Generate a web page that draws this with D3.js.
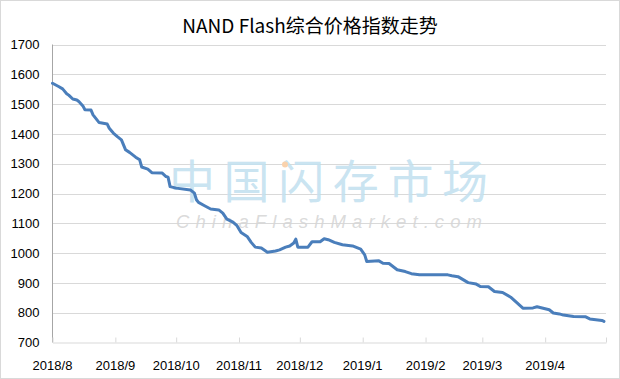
<!DOCTYPE html>
<html><head><meta charset="utf-8">
<script src="https://cdn.jsdelivr.net/npm/d3@7"></script>
<style>
html,body{margin:0;padding:0;background:#fff;}
svg{display:block;}
</style></head>
<body>
<svg id="chart" width="620" height="379"></svg>
<script>
// ---- data ----
const title = "NAND Flash综合价格指数走势";
const dates = ["2018-08-01","2018-08-04","2018-08-06","2018-08-08","2018-08-09","2018-08-11","2018-08-13","2018-08-14","2018-08-16","2018-08-17","2018-08-20","2018-08-21","2018-08-24","2018-08-28","2018-08-29","2018-08-31","2018-09-02","2018-09-04","2018-09-06","2018-09-08","2018-09-11","2018-09-13","2018-09-14","2018-09-17","2018-09-19","2018-09-24","2018-09-26","2018-09-27","2018-09-28","2018-10-01","2018-10-08","2018-10-10","2018-10-11","2018-10-12","2018-10-15","2018-10-18","2018-10-22","2018-10-24","2018-10-26","2018-10-29","2018-10-31","2018-11-02","2018-11-05","2018-11-07","2018-11-09","2018-11-12","2018-11-15","2018-11-19","2018-11-21","2018-11-24","2018-11-26","2018-11-28","2018-11-29","2018-11-30","2018-12-05","2018-12-07","2018-12-11","2018-12-13","2018-12-15","2018-12-18","2018-12-22","2018-12-27","2018-12-31","2019-01-02","2019-01-03","2019-01-09","2019-01-11","2019-01-14","2019-01-18","2019-01-22","2019-01-25","2019-01-29","2019-02-12","2019-02-14","2019-02-17","2019-02-22","2019-02-26","2019-02-28","2019-03-04","2019-03-07","2019-03-11","2019-03-15","2019-03-21","2019-03-26","2019-03-28","2019-03-31","2019-04-03","2019-04-05","2019-04-08","2019-04-10","2019-04-15","2019-04-21","2019-04-23","2019-04-29","2019-04-30"];
const values = [1570,1559,1551,1535,1530,1517,1514,1509,1494,1481,1480,1464,1438,1433,1419,1403,1391,1380,1347,1338,1322,1313,1289,1282,1270,1269,1257,1255,1223,1218,1212,1201,1179,1170,1159,1148,1145,1134,1114,1104,1092,1069,1056,1036,1020,1017,1003,1007,1011,1020,1024,1034,1047,1020,1020,1038,1038,1048,1045,1036,1028,1024,1013,994,972,974,966,965,944,938,931,927,927,924,921,901,896,888,887,871,868,852,815,816,820,815,810,799,796,792,787,786,779,774,771];
const yTicks = [700,800,900,1000,1100,1200,1300,1400,1500,1600,1700];
const monthStarts = ["2018-08-01","2018-09-01","2018-10-01","2018-11-01","2018-12-01","2019-01-01","2019-02-01","2019-03-01","2019-04-01","2019-05-01"];
const monthLabels = ["2018/8","2018/9","2018/10","2018/11","2018/12","2019/1","2019/2","2019/3","2019/4"];
const watermarkCn = "中国闪存市场";
const watermarkEn = "ChinaFlashMarket.com";

// ---- drawing ----
(function(){
const parse = d3.utcParse("%Y-%m-%d");
const data = dates.map((d,i)=>({date:parse(d), value:values[i]}));
const svg = d3.select("#chart");
const W = 620, H = 379;
const pL = 52.5, pR = 606, pT = 44.5, pB = 342.5;

svg.append("rect").attr("x",0.5).attr("y",0.5).attr("width",W-1).attr("height",H-1)
  .attr("fill","#fff").attr("stroke","#d9d9d9");

const x = d3.scaleUtc().domain([parse(monthStarts[0]), parse(monthStarts[monthStarts.length-1])]).range([pL, pR]);
const y = d3.scaleLinear().domain([700,1700]).range([pB, pT]);

// title
svg.append("text").attr("x",310).attr("y",33).attr("text-anchor","middle")
  .attr("font-family","'Noto Sans CJK SC','Noto Sans',sans-serif").attr("font-size",19)
  .attr("fill","#000").text(title);

// gridlines
svg.append("g").selectAll("line").data(yTicks.filter(v=>v>700)).join("line")
  .attr("x1",pL).attr("x2",pR).attr("y1",d=>Math.round(y(d))+0.5).attr("y2",d=>Math.round(y(d))+0.5)
  .attr("stroke","#d9d9d9").attr("stroke-width",1);

// watermark
const wm = svg.append("g");
wm.append("text").attr("x",169).attr("y",197.5)
  .attr("font-family","'Noto Sans CJK SC',sans-serif").attr("font-weight",400).attr("font-size",46)
  .attr("textLength",319).attr("lengthAdjust","spacing")
  .attr("fill","#c3e1f0").attr("fill-opacity",0.9).text(watermarkCn);
wm.append("circle").attr("cx",285).attr("cy",164.5).attr("r",3).attr("fill","#f9d2ad");
wm.append("text").attr("x",176).attr("y",228)
  .attr("font-family","'Liberation Sans',Arial,sans-serif").attr("font-style","italic").attr("font-size",18.5)
  .attr("textLength",306).attr("lengthAdjust","spacing")
  .attr("fill","#d6d6d6").attr("fill-opacity",0.9).text(watermarkEn);

// y axis
const yAxis = d3.axisLeft(y).tickValues(yTicks).tickSize(0).tickPadding(13).tickFormat(d3.format("d"));
const gy = svg.append("g").attr("transform",`translate(${pL},0)`).call(yAxis);
gy.select(".domain").attr("stroke","#a6a6a6").attr("d",`M0,${pT}V${pB}`);
gy.selectAll("text").attr("font-family","'Liberation Sans',Arial,sans-serif").attr("font-size",13).attr("fill","#000");

// x axis
const xAxis = d3.axisBottom(x).tickValues(monthStarts.map(parse)).tickSize(-5).tickSizeOuter(0).tickPadding(0).tickFormat(()=>"");
const gx = svg.append("g").attr("transform",`translate(0,${pB})`).call(xAxis);
gx.select(".domain").attr("stroke","#d9d9d9");
gx.selectAll(".tick line").attr("stroke","#d9d9d9");
svg.append("g").selectAll("text").data(monthLabels).join("text")
  .attr("x",(d,i)=>x(parse(monthStarts[i]))).attr("y",370)
  .attr("text-anchor","middle")
  .attr("font-family","'Liberation Sans',Arial,sans-serif").attr("font-size",13).attr("fill","#000")
  .text(d=>d);

// line
const line = d3.line().x(d=>x(d.date)).y(d=>y(d.value));
svg.append("path").datum(data).attr("d",line).attr("fill","none")
  .attr("stroke","#4a7ebb").attr("stroke-width",3).attr("stroke-linejoin","round").attr("stroke-linecap","round");
})();
</script>
</body></html>
